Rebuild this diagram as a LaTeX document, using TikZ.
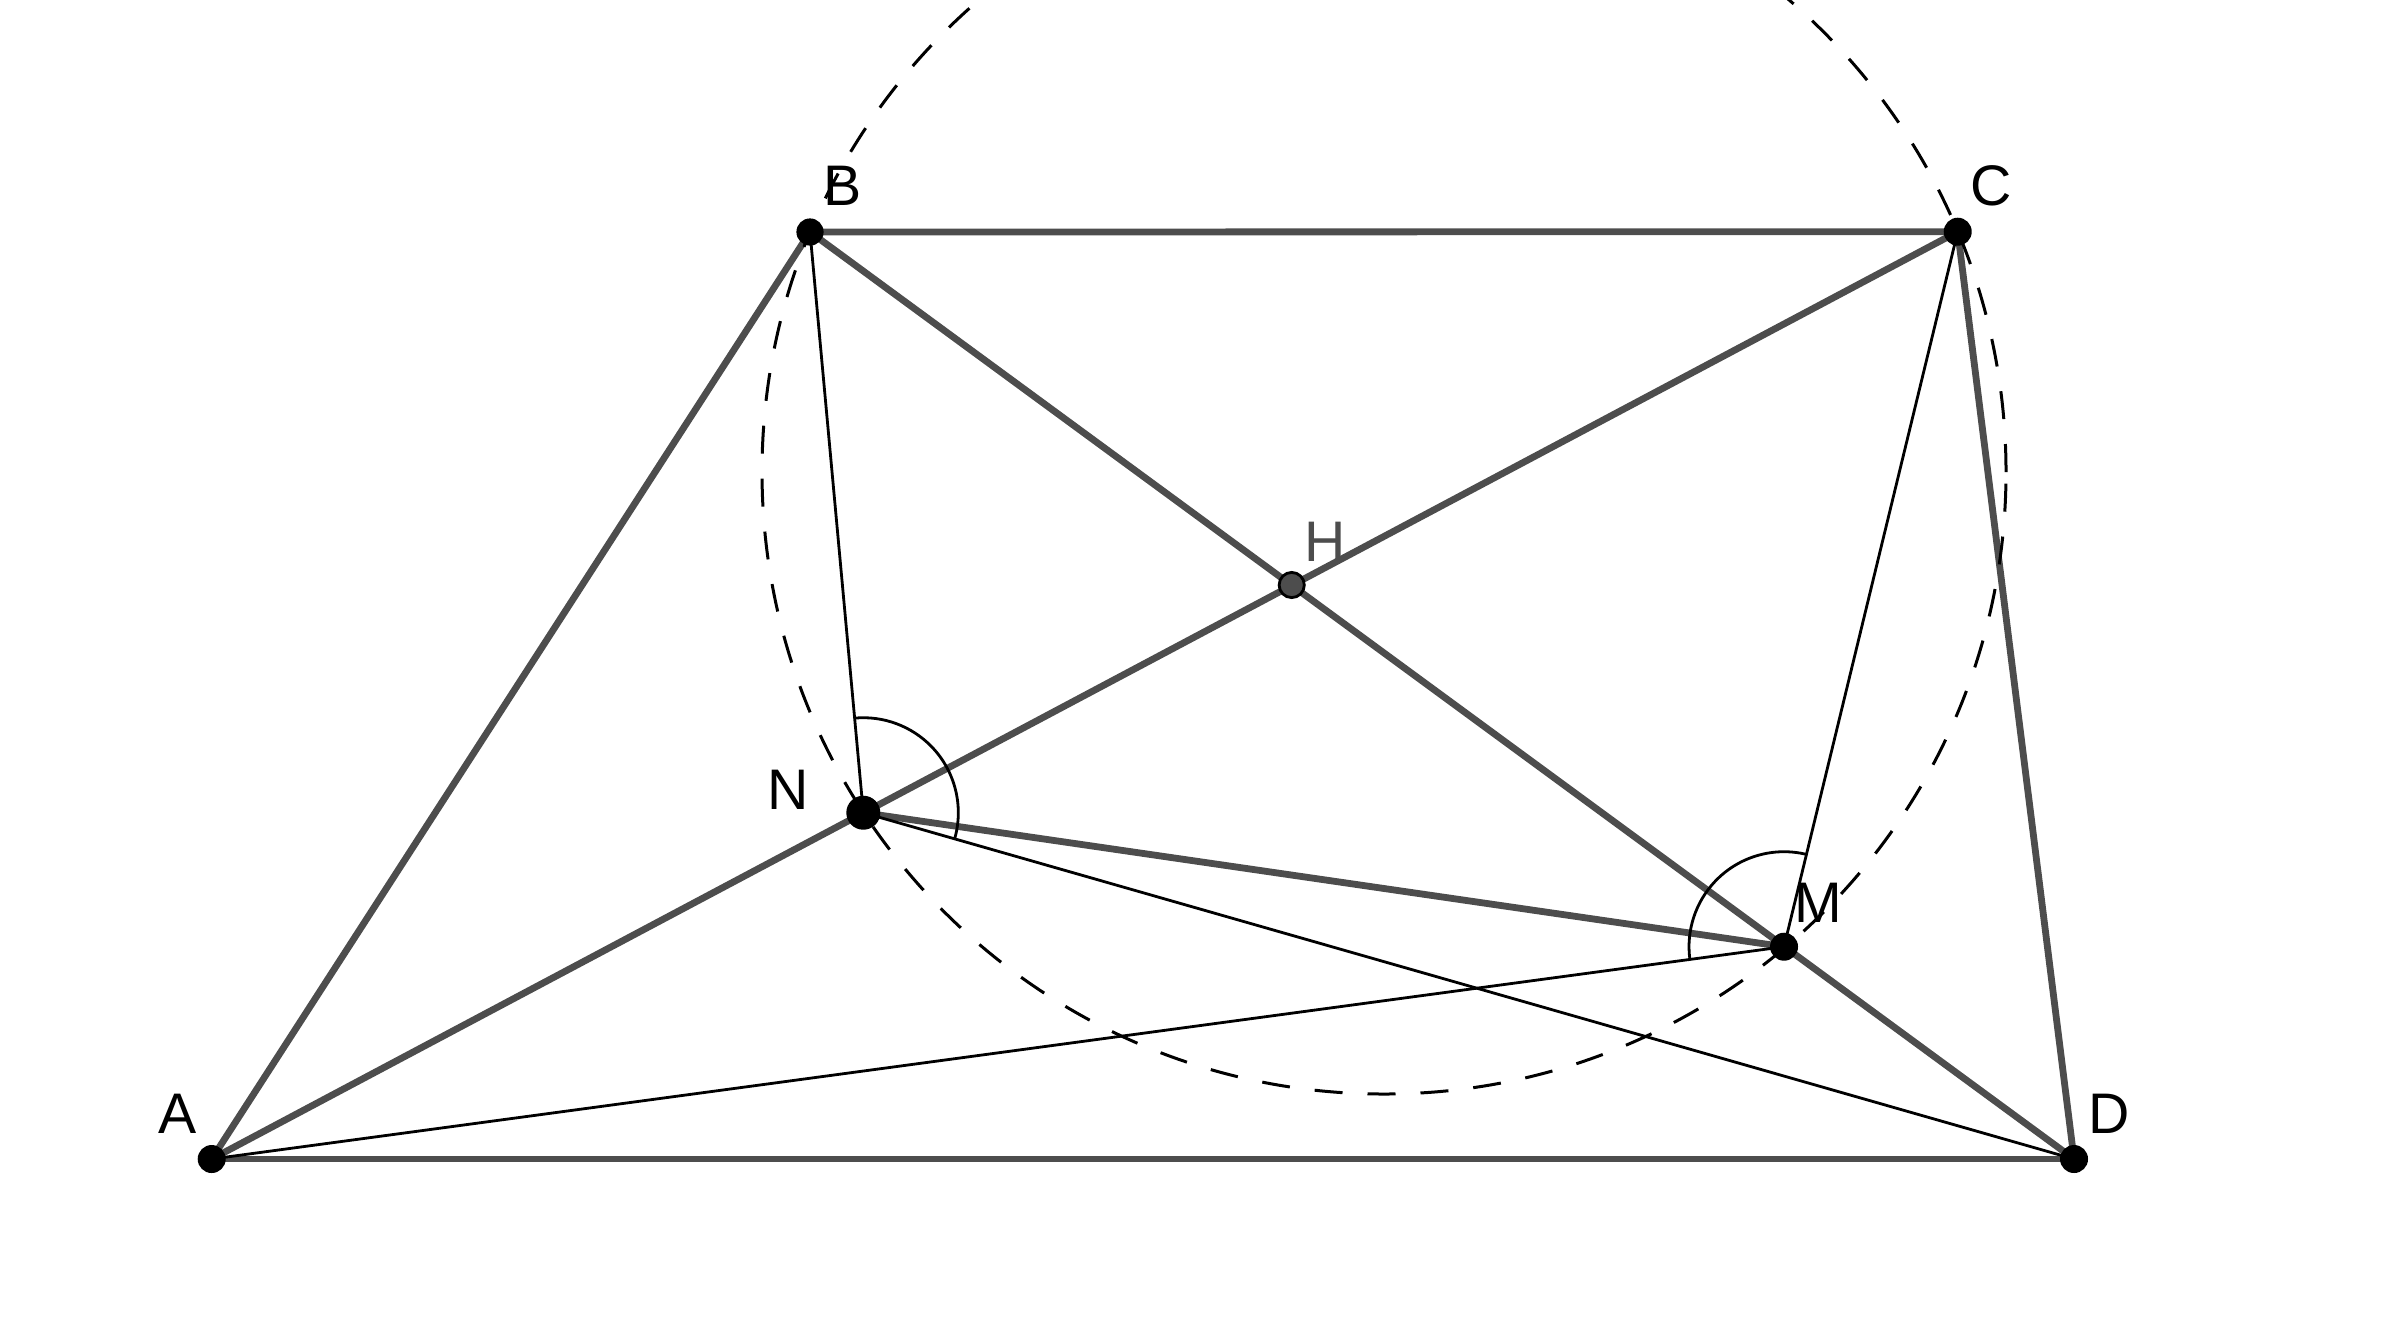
\documentclass[tikz,border=0pt]{standalone}
\usepackage{fontspec}
\setmainfont{Liberation Sans}
\usetikzlibrary{angles,calc}
\definecolor{lgray}{HTML}{4D4D4D}
\tikzset{
  thickline/.style={draw=lgray,line width=1.7pt},
  thinline/.style={draw=black,line width=0.7pt},
  dashcircle/.style={draw=black,line width=0.75pt,dash pattern=on 7pt off 6.25pt},
  anglemark/.style={draw=black,line width=0.7pt,angle radius=23.75pt},
  ptdot/.style={circle,fill=black,inner sep=0pt},
  lbl/.style={inner sep=0pt,font=\fontsize{14.3pt}{16pt}\selectfont}
}
\begin{document}
\begin{tikzpicture}[x=0.25pt,y=-0.25pt]
\useasboundingbox (0,0) rectangle (2383,1339);
\clip (0,0) rectangle (2383,1339);
\coordinate (A) at (211.7,1159);
\coordinate (B) at (810,232);
\coordinate (C) at (1957.7,231.7);
\coordinate (D) at (2074,1159);
\coordinate (H) at (1291.7,585);
\coordinate (N) at (863.3,812.7);
\coordinate (M) at (1784,946.7);
\coordinate (O) at (1384,472);
% thick segments
\draw[thickline] (A) -- (B);
\draw[thickline] (B) -- (C);
\draw[thickline] (C) -- (D);
\draw[thickline] (D) -- (A);
\draw[thickline] (A) -- (C);
\draw[thickline] (B) -- (D);
\draw[thickline] (N) -- (M);
% thin segments
\draw[thinline] (B) -- (N);
\draw[thinline] (C) -- (M);
\draw[thinline] (A) -- (M);
\draw[thinline] (N) -- (D);
% circle
\draw[dashcircle] (O) circle[radius=155.5pt];
% angle marks
\pic[anglemark] {angle = D--N--B};
\pic[anglemark] {angle = C--M--A};
% points
\node[ptdot,minimum size=7pt] (Ad) at (A) {};
\node[ptdot,minimum size=6.8pt] (Bd) at (B) {};
\node[ptdot,minimum size=7pt] (Cd) at (C) {};
\node[ptdot,minimum size=7pt] (Dd) at (D) {};
\node[ptdot,minimum size=8.5pt] (Nd) at (N) {};
\node[ptdot,minimum size=7pt] (Md) at (M) {};
\node[circle,fill=lgray,draw=black,line width=0.7pt,inner sep=0pt,minimum size=6.3pt] (Hd) at (H) {};
% labels
\node[lbl] (lA) at (178,1114) {A};
\node[lbl] (lB) at (843,186) {B};
\node[lbl] (lC) at (1991,186) {C};
\node[lbl] (lD) at (2109,1114) {D};
\node[lbl,text=lgray] (lH) at (1325,542) {H};
\node[lbl] (lN) at (788,790) {N};
\node[lbl] (lM) at (1818,903) {M};
\end{tikzpicture}
\end{document}
